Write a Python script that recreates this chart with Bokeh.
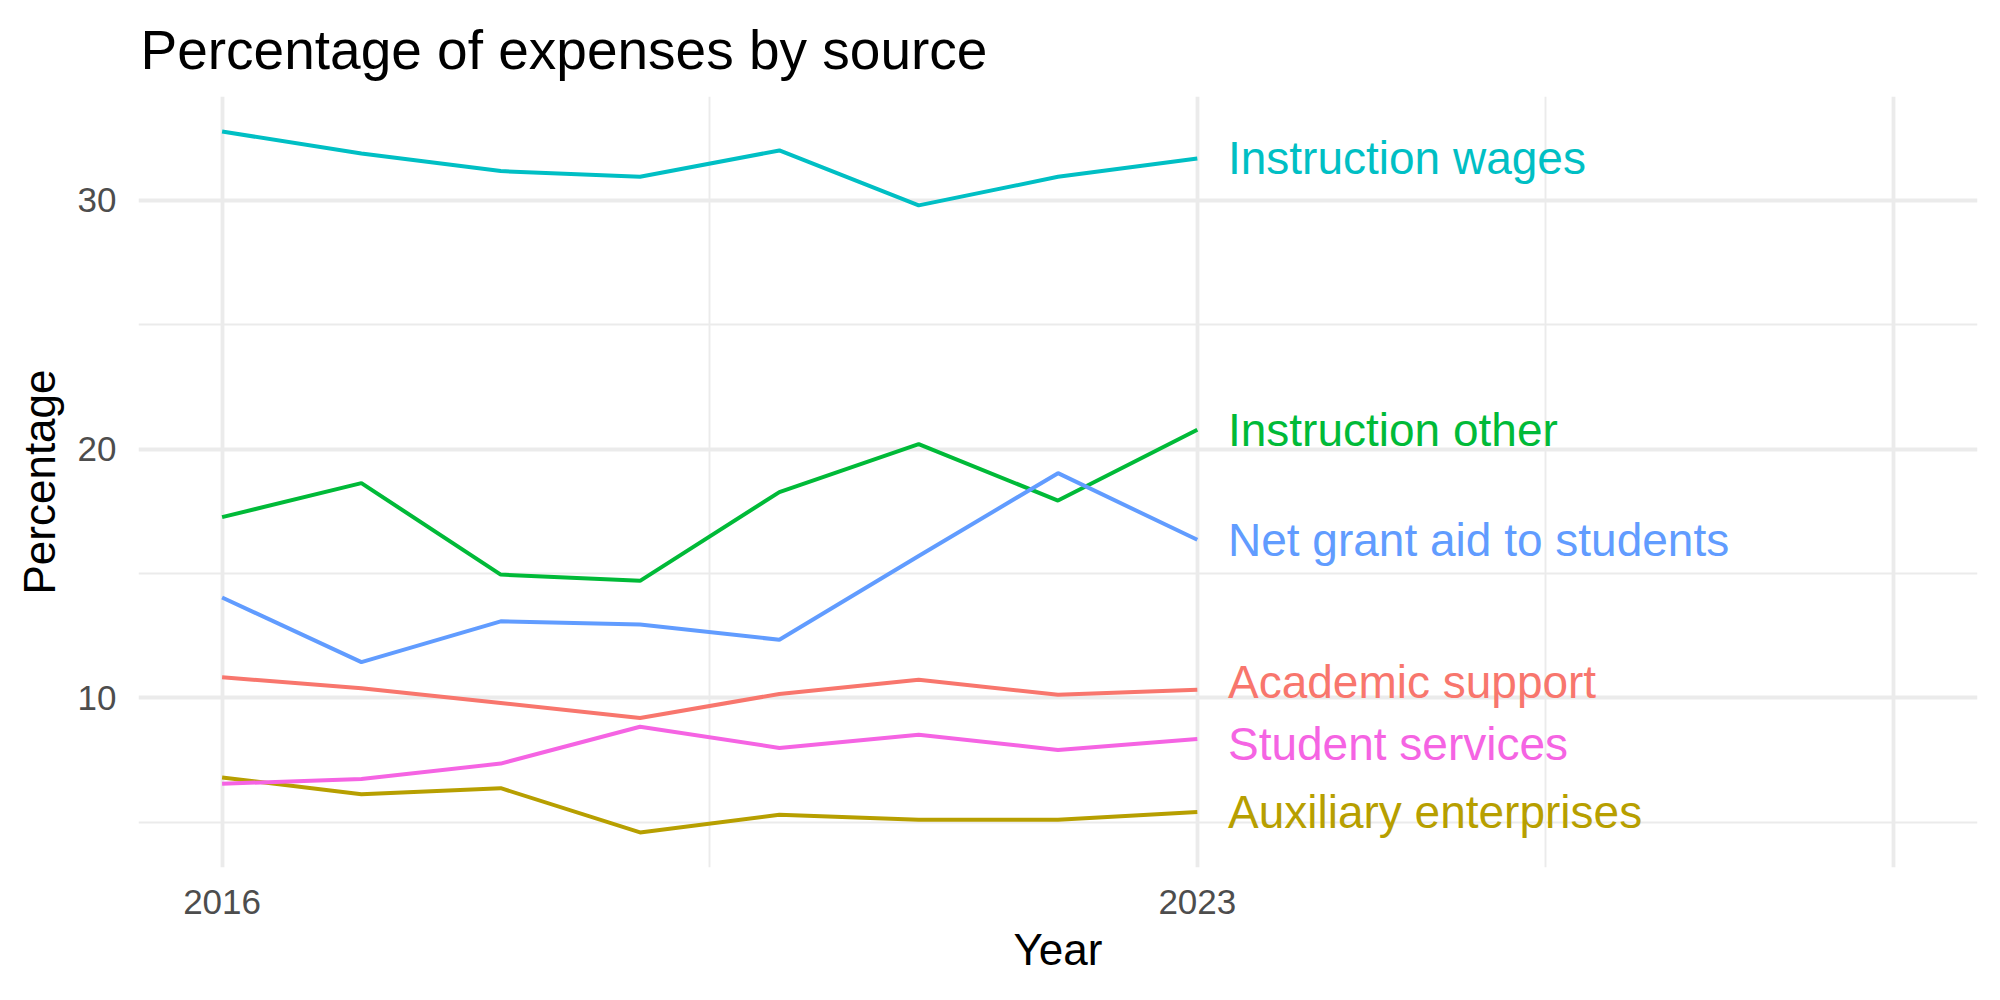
from bokeh.plotting import figure
from bokeh.models import FixedTicker, Range1d, ColumnDataSource
from bokeh.embed import file_html
from bokeh.resources import INLINE

# Share of total expenses by source, per year
years = [2016, 2017, 2018, 2019, 2020, 2021, 2022, 2023]
academic_support = [10.82, 10.38, 9.79, 9.18, 10.15, 10.72, 10.12, 10.32]
auxiliary_enterprises = [6.79, 6.12, 6.36, 4.58, 5.29, 5.09, 5.09, 5.40]
instruction_other = [17.26, 18.63, 14.95, 14.70, 18.27, 20.20, 17.93, 20.78]
instruction_wages = [32.77, 31.89, 31.18, 30.95, 32.01, 29.80, 30.95, 31.69]
net_grant_aid = [14.03, 11.43, 13.07, 12.94, 12.33, 15.70, 19.03, 16.35]
student_services = [6.54, 6.73, 7.35, 8.83, 7.98, 8.51, 7.90, 8.34]

series_names = ["Academic support", "Auxiliary enterprises", "Instruction other",
                "Instruction wages", "Net grant aid to students", "Student services"]
series_values = [academic_support, auxiliary_enterprises, instruction_other,
                 instruction_wages, net_grant_aid, student_services]
series_colors = ["#F8766D", "#B79F00", "#00BA38", "#00BFC4", "#619CFF", "#F564E3"]
# small vertical shifts so neighbouring end labels do not collide
label_shift = [0.30, 0.0, 0.0, 0.0, 0.0, -0.21]

x_ticks = [2016, 2023, 2028]
x_minor = [2019.5, 2025.5]
y_ticks = [10, 20, 30]
y_minor = [5, 15, 25]

FONT = "Liberation Sans"

p = figure(width=2000, height=1000, output_backend="svg", toolbar_location=None,
           x_range=Range1d(2015.4, 2028.6), y_range=Range1d(3.17, 34.18),
           min_border_left=138, min_border_right=23, min_border_top=96,
           min_border_bottom=133)

p.title.text = "Percentage of expenses by source"
p.title.text_font = FONT
p.title.text_font_size = "55px"
p.title.text_font_style = "normal"
p.title.text_color = "#000000"
p.title.offset = 2
p.title.standoff = 32

p.outline_line_color = None
p.background_fill_color = "white"
p.border_fill_color = "white"

# axes
p.xaxis.ticker = FixedTicker(ticks=x_ticks, minor_ticks=x_minor)
p.xaxis.major_label_overrides = {2016: "2016", 2023: "2023", 2028: ""}
p.yaxis.ticker = FixedTicker(ticks=y_ticks, minor_ticks=y_minor)
for ax in (p.xaxis[0], p.yaxis[0]):
    ax.axis_line_color = None
    ax.major_tick_line_color = None
    ax.minor_tick_line_color = None
    ax.major_tick_out = 0
    ax.major_tick_in = 0
    ax.minor_tick_out = 0
    ax.minor_tick_in = 0
    ax.major_label_text_font = FONT
    ax.major_label_text_font_size = "35px"
    ax.major_label_text_color = "#4D4D4D"
    ax.axis_label_text_font = FONT
    ax.axis_label_text_font_size = "44px"
    ax.axis_label_text_font_style = "normal"
    ax.axis_label_text_color = "#000000"
p.xaxis.axis_label = "Year"
p.yaxis.axis_label = "Percentage"
p.xaxis.major_label_standoff = 22
p.yaxis.major_label_standoff = 22
p.xaxis.axis_label_standoff = 8
p.yaxis.axis_label_standoff = 11

# grid
for g in (p.xgrid[0], p.ygrid[0]):
    g.grid_line_color = "#EBEBEB"
    g.grid_line_width = 3.8
    g.minor_grid_line_color = "#EBEBEB"
    g.minor_grid_line_width = 1.9

# lines and end labels
for name, vals, color, shift in zip(series_names, series_values, series_colors, label_shift):
    src = ColumnDataSource(dict(x=years, y=vals))
    p.line("x", "y", source=src, line_color=color, line_width=4)
    lab = ColumnDataSource(dict(x=[years[-1] + 0.22], y=[vals[-1] + shift], t=[name]))
    p.text("x", "y", text="t", source=lab, text_color=color, text_font_size="46px",
           text_align="left", text_baseline="middle", text_font={"value": FONT})

open("out.html", "w").write(file_html(p, INLINE))
